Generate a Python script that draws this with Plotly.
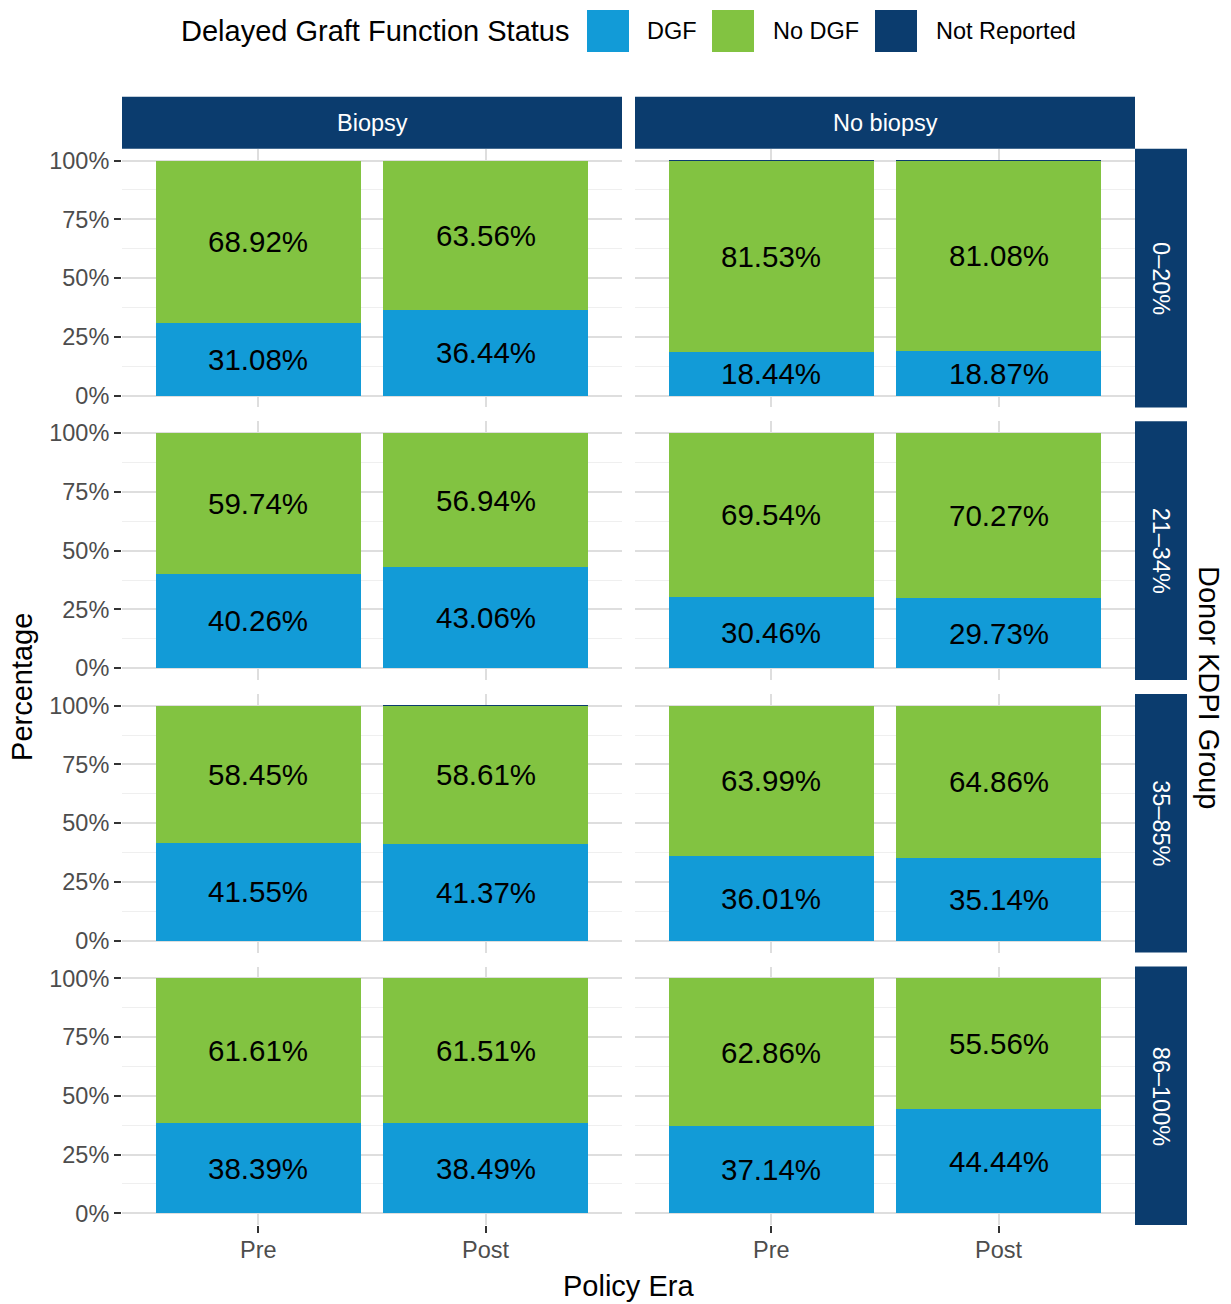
import plotly.graph_objects as go

# ---------------- data ----------------
eras = ["Pre", "Post"]
biopsy_groups = ["Biopsy", "No biopsy"]
kdpi_groups = ["0\u201320%", "21\u201334%", "35\u201385%", "86\u2013100%"]
status_labels = ["DGF", "No DGF", "Not Reported"]

# Biopsy column (rows = KDPI groups, values = [Pre, Post])
biopsy_dgf = [[31.08, 36.44], [40.26, 43.06], [41.55, 41.37], [38.39, 38.49]]
biopsy_nodgf = [[68.92, 63.56], [59.74, 56.94], [58.45, 58.61], [61.61, 61.51]]
biopsy_nr = [[0.0, 0.0], [0.0, 0.0], [0.0, 0.02], [0.0, 0.0]]

# No biopsy column
nobiopsy_dgf = [[18.44, 18.87], [30.46, 29.73], [36.01, 35.14], [37.14, 44.44]]
nobiopsy_nodgf = [[81.53, 81.08], [69.54, 70.27], [63.99, 64.86], [62.86, 55.56]]
nobiopsy_nr = [[0.03, 0.05], [0.0, 0.0], [0.0, 0.0], [0.0, 0.0]]

y_tickvals = [0, 25, 50, 75, 100]
y_ticktext = ["0%", "25%", "50%", "75%", "100%"]

# ---------------- style ----------------
W, H = 1231, 1304
C_DGF = "#129BD7"
C_NODGF = "#82C341"
C_NR = "#0B3C6E"
STRIP = "#0B3C6E"
FONT = "Liberation Sans, Arial, Helvetica, sans-serif"
GRID = "#DEDEDE"
MINOR = "#EFEFEF"
SMALL = 23.5
TITLE = 29
LABEL = 29.5

col_px = [(122, 622), (635, 1135)]
row_px = [(148, 407), (421, 680), (694, 953), (967, 1226)]


def fx(p):
    return p / W


def fy(p):
    return 1 - p / H


data_cols = [
    (biopsy_dgf, biopsy_nodgf, biopsy_nr),
    (nobiopsy_dgf, nobiopsy_nodgf, nobiopsy_nr),
]

fig = go.Figure()
layout = {}
shapes = []
annotations = []

for r in range(4):
    for c in range(2):
        k = r * 2 + c
        s = "" if k == 0 else str(k + 1)
        xa, ya = "x" + s, "y" + s
        dgf = data_cols[c][0][r]
        nodgf = data_cols[c][1][r]
        nr = data_cols[c][2][r]

        fig.add_trace(go.Bar(x=eras, y=dgf, marker=dict(color=C_DGF, line=dict(width=0)),
                             width=0.9, xaxis=xa, yaxis=ya, showlegend=False,
                             name=status_labels[0], hoverinfo="skip"))
        fig.add_trace(go.Bar(x=eras, y=nodgf, marker=dict(color=C_NODGF, line=dict(width=0)),
                             width=0.9, xaxis=xa, yaxis=ya, showlegend=False,
                             name=status_labels[1], hoverinfo="skip"))
        nr_vals = [v if v > 0 else None for v in nr]
        fig.add_trace(go.Bar(x=eras, y=nr_vals, marker=dict(color=C_NR, line=dict(width=1, color=C_NR)),
                             width=0.9, xaxis=xa, yaxis=ya, showlegend=False,
                             name=status_labels[2], hoverinfo="skip"))
        # labels centred in segments (data coordinates, from the series values)
        for era, d, n in zip(eras, dgf, nodgf):
            annotations.append(dict(x=era, y=d / 2, xref=xa, yref=ya,
                                    text=f"{d:.2f}%", showarrow=False,
                                    xanchor="center", yanchor="middle",
                                    font=dict(size=LABEL, color="black", family=FONT)))
            annotations.append(dict(x=era, y=d + n / 2, xref=xa, yref=ya,
                                    text=f"{n:.2f}%", showarrow=False,
                                    xanchor="center", yanchor="middle",
                                    font=dict(size=LABEL, color="black", family=FONT)))

        x0, x1 = col_px[c]
        y0, y1 = row_px[r]
        bottom = r == 3
        left = c == 0
        layout["xaxis" + s] = dict(
            domain=[fx(x0), fx(x1)], anchor=ya, type="category",
            categoryorder="array", categoryarray=eras, range=[-0.6, 1.6],
            showgrid=True, gridcolor=GRID, gridwidth=2, zeroline=False,
            showline=False,
            showticklabels=bottom, ticks="outside" if bottom else "",
            ticklen=7, tickwidth=2, tickcolor="#333333",
            ticklabelstandoff=-3,
            tickfont=dict(size=SMALL, color="#4D4D4D", family=FONT),
            fixedrange=True,
        )
        layout["yaxis" + s] = dict(
            domain=[fy(y1), fy(y0)], anchor=xa, range=[-5, 105],
            tickvals=y_tickvals, ticktext=y_ticktext,
            showgrid=True, gridcolor=GRID, gridwidth=2, zeroline=False,
            showline=False,
            minor=dict(tickvals=[12.5, 37.5, 62.5, 87.5], showgrid=True,
                       gridcolor=MINOR, gridwidth=1.2, ticks=""),
            showticklabels=left, ticks="outside" if left else "",
            ticklen=7, tickwidth=2, tickcolor="#333333",
            tickfont=dict(size=SMALL, color="#4D4D4D", family=FONT),
            fixedrange=True,
        )

# column strips
for c, name in enumerate(biopsy_groups):
    x0, x1 = col_px[c]
    shapes.append(dict(type="rect", xref="paper", yref="paper",
                       x0=fx(x0), x1=fx(x1), y0=fy(148), y1=fy(96),
                       fillcolor=STRIP, line=dict(width=0), layer="below"))
    annotations.append(dict(x=fx((x0 + x1) / 2), y=fy(122), xref="paper", yref="paper",
                            text=name, showarrow=False, xanchor="center", yanchor="middle",
                            font=dict(size=SMALL, color="white", family=FONT)))

# row strips
for r, name in enumerate(kdpi_groups):
    y0, y1 = row_px[r]
    shapes.append(dict(type="rect", xref="paper", yref="paper",
                       x0=fx(1135), x1=fx(1187), y0=fy(y1), y1=fy(y0),
                       fillcolor=STRIP, line=dict(width=0), layer="below"))
    annotations.append(dict(x=fx(1161), y=fy((y0 + y1) / 2), xref="paper", yref="paper",
                            text=name, showarrow=False, textangle=90,
                            xanchor="center", yanchor="middle",
                            font=dict(size=SMALL, color="white", family=FONT)))

# axis titles
annotations.append(dict(x=fx(22), y=fy(687), xref="paper", yref="paper", text="Percentage",
                        showarrow=False, textangle=-90, xanchor="center", yanchor="middle",
                        font=dict(size=TITLE, color="black", family=FONT)))
annotations.append(dict(x=fx(628), y=fy(1287), xref="paper", yref="paper", text="Policy Era",
                        showarrow=False, xanchor="center", yanchor="middle",
                        font=dict(size=TITLE, color="black", family=FONT)))
annotations.append(dict(x=fx(1209), y=fy(687), xref="paper", yref="paper", text="Donor KDPI Group",
                        showarrow=False, textangle=90, xanchor="center", yanchor="middle",
                        font=dict(size=TITLE, color="black", family=FONT)))

# legend (drawn manually to match large square keys)
annotations.append(dict(x=fx(179), y=fy(30), xref="paper", yref="paper",
                        text="Delayed Graft Function Status", showarrow=False,
                        xanchor="left", yanchor="middle",
                        font=dict(size=TITLE, color="black", family=FONT)))
legend_items = [(status_labels[0], C_DGF, 587, 645),
                (status_labels[1], C_NODGF, 712, 771),
                (status_labels[2], C_NR, 875, 934)]
for label, col, kx, tx in legend_items:
    shapes.append(dict(type="rect", xref="paper", yref="paper",
                       x0=fx(kx), x1=fx(kx + 42), y0=fy(51), y1=fy(9),
                       fillcolor=col, line=dict(width=0)))
    annotations.append(dict(x=fx(tx), y=fy(30), xref="paper", yref="paper", text=label,
                            showarrow=False, xanchor="left", yanchor="middle",
                            font=dict(size=SMALL, color="black", family=FONT)))

fig.update_layout(
    **layout,
    width=W, height=H,
    margin=dict(l=0, r=0, t=0, b=0),
    barmode="stack",
    plot_bgcolor="white", paper_bgcolor="white",
    font=dict(family=FONT),
    shapes=shapes, annotations=annotations,
    showlegend=False,
)

fig.write_html(
    "out.html",
    config={"displayModeBar": False},
    post_script="document.body.style.margin='0';document.body.style.overflow='hidden';",
)
